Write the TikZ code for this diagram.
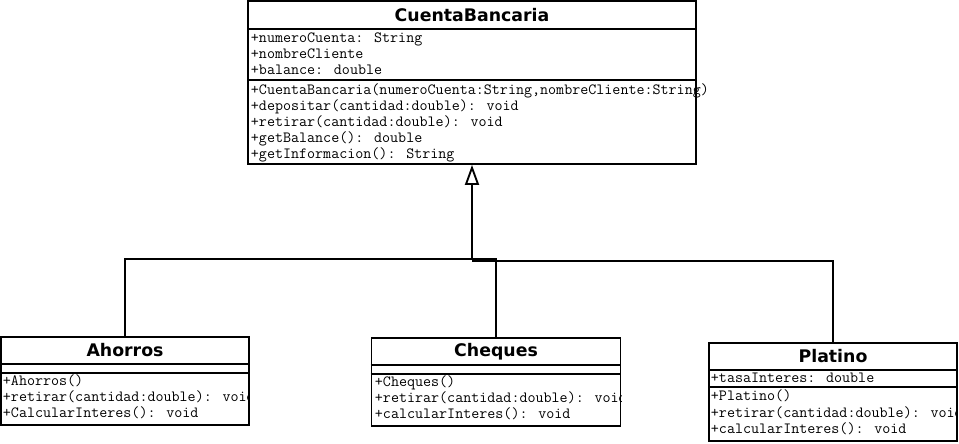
\documentclass[tikz,border=0pt]{standalone}
\usepackage{fontspec}
\newfontfamily\titlefont{DejaVu Sans}
\usepackage{tikz}
\usetikzlibrary{arrows.meta}

\begin{document}
\begin{tikzpicture}[x=0.75pt, y=-0.75pt, line width=1.4pt,
  classbox/.style={draw, rectangle, inner sep=0pt},
  classname/.style={font=\titlefont\bfseries\fontsize{13}{15}\selectfont},
  member/.style={anchor=base west, inner sep=0pt, font=\ttfamily\fontsize{11.7}{13}\selectfont},
  inherit/.style={-{Triangle[open, length=15pt, width=10.5pt]}}]
  \useasboundingbox (0,0) rectangle (959,443);

  % superclass
  \node[classbox, minimum width=336pt, minimum height=122.25pt] (cuenta) at (472,82.5) {};
  \node[classname] (cuentaname) at (472,15) {CuentaBancaria};
  \draw (cuenta.west |- 0,29) -- (cuenta.east |- 0,29);
  \draw (cuenta.west |- 0,80) -- (cuenta.east |- 0,80);
  \foreach \m [count=\i] in {+numeroCuenta: String, +nombreCliente, +balance: double}
    \node[member] (cuentaat\i) at (250,{26+16*\i}) {\m};
  \foreach \m [count=\i] in {{+CuentaBancaria(numeroCuenta:String,nombreCliente:String)},
      +depositar(cantidad:double): void, +retirar(cantidad:double): void,
      +getBalance(): double, +getInformacion(): String}
    \node[member] (cuentaop\i) at (250,{78+16*\i}) {\m};

  % subclasses
  \node[classbox, minimum width=186pt, minimum height=66pt] (ahorros) at (125,381) {};
  \node[classname] (ahorrosname) at (125,350.5) {Ahorros};
  \draw (ahorros.west |- 0,364) -- (ahorros.east |- 0,364);
  \draw (ahorros.west |- 0,373) -- (ahorros.east |- 0,373);
  \begin{scope}
    \clip (ahorros.south west) rectangle (ahorros.north east);
    \foreach \m [count=\i] in {+Ahorros(), +retirar(cantidad:double): void, +CalcularInteres(): void}
      \node[member] (ahorrosop\i) at (2,{369+16*\i}) {\m};
  \end{scope}

  \node[classbox, minimum width=186.75pt, minimum height=66pt] (cheques) at (496,382) {};
  \node[classname] (chequesname) at (496,351.5) {Cheques};
  \draw (cheques.west |- 0,365) -- (cheques.east |- 0,365);
  \draw (cheques.west |- 0,374) -- (cheques.east |- 0,374);
  \begin{scope}
    \clip (cheques.south west) rectangle (cheques.north east);
    \foreach \m [count=\i] in {+Cheques(), +retirar(cantidad:double): void, +calcularInteres(): void}
      \node[member] (chequesop\i) at (374,{370+16*\i}) {\m};
  \end{scope}

  \node[classbox, minimum width=186pt, minimum height=73.5pt] (platino) at (833,392) {};
  \node[classname] (platinoname) at (833,356.5) {Platino};
  \draw (platino.west |- 0,370) -- (platino.east |- 0,370);
  \draw (platino.west |- 0,387) -- (platino.east |- 0,387);
  \node[member] (platinoat1) at (710,382) {+tasaInteres: double};
  \begin{scope}
    \clip (platino.south west) rectangle (platino.north east);
    \foreach \m [count=\i] in {+Platino(), +retirar(cantidad:double): void, +calcularInteres(): void}
      \node[member] (platinoop\i) at (710,{384+16.5*\i}) {\m};
  \end{scope}

  % generalization
  \coordinate (joint) at (472,259);
  \coordinate (jointb) at (472,261);
  \draw[inherit] (ahorros.north) |- (joint) -- (cuenta.south);
  \draw (cheques.north) |- (joint);
  \draw (platino.north) |- (jointb);
\end{tikzpicture}
\end{document}
